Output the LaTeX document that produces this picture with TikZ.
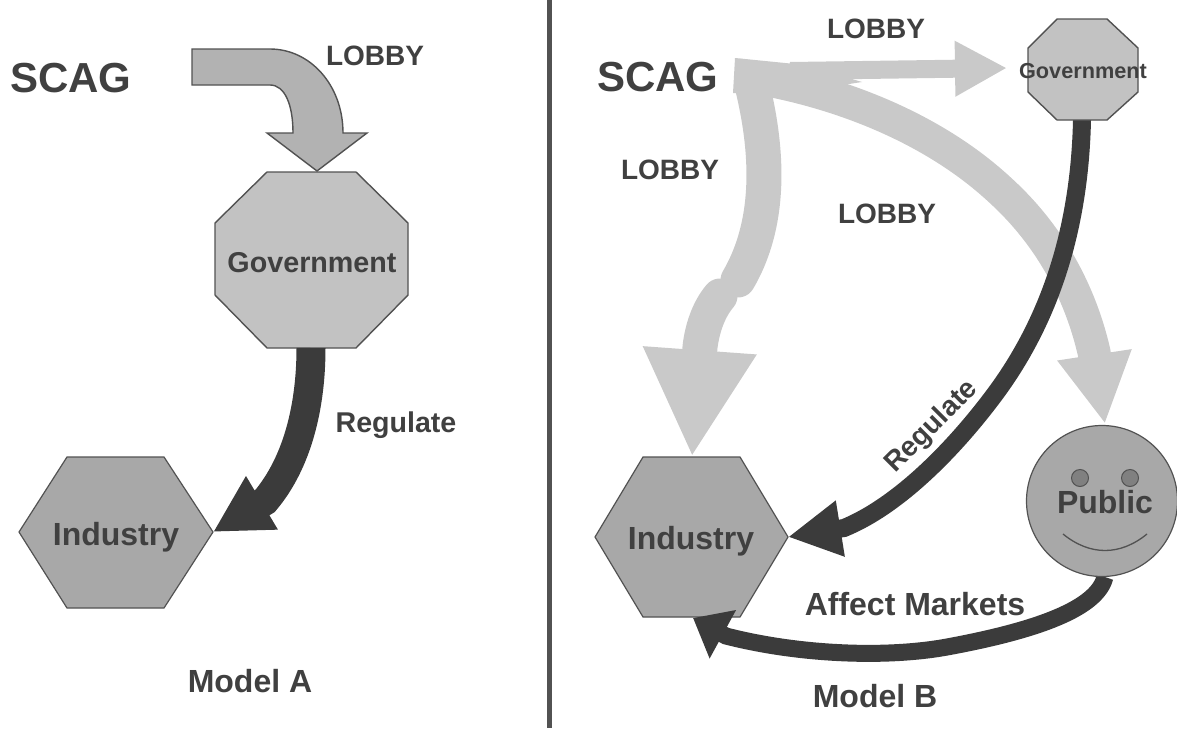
\documentclass[tikz,border=0pt]{standalone}
\usepackage{fontspec}
\setmainfont{Liberation Sans}
\usetikzlibrary{arrows.meta}

\definecolor{inkgray}{gray}{0.25}
\definecolor{edgegray}{gray}{0.32}
\definecolor{darkarrow}{gray}{0.23}
\definecolor{lightarrow}{gray}{0.79}
\definecolor{blockgray}{gray}{0.70}
\definecolor{govgray}{gray}{0.76}
\definecolor{indgray}{gray}{0.66}
\definecolor{eyegray}{gray}{0.50}

\tikzset{
  lbl/.style={font=\bfseries\fontsize{#1}{#1}\selectfont, text=inkgray, inner sep=0pt, anchor=base},
  govshape/.style={draw=edgegray, fill=govgray, line width=1.4pt, line join=miter},
  indshape/.style={draw=edgegray, fill=indgray, line width=1.2pt, line join=miter},
  lobbyline/.style={draw=lightarrow, line width=#1},
  regline/.style={draw=darkarrow, line width=#1}
}

\begin{document}
\begin{tikzpicture}[x=1pt,y=-1pt]
    \useasboundingbox (0,0) rectangle (1177,728);
    % Define vertices
    \coordinate (gova1) at (267,172);
    \coordinate (gova2) at (356,172);
    \coordinate (gova3) at (408,223);
    \coordinate (gova4) at (408,295);
    \coordinate (gova5) at (356,348);
    \coordinate (gova6) at (267,348);
    \coordinate (gova7) at (215,295);
    \coordinate (gova8) at (215,223);
    \coordinate (govaout) at (311,348);

    \coordinate (inda1) at (19,532);
    \coordinate (inda2) at (67,457);
    \coordinate (inda3) at (164,457);
    \coordinate (inda4) at (213,532);
    \coordinate (inda5) at (164,608);
    \coordinate (inda6) at (67,608);

    \coordinate (govb1) at (1057,19);
    \coordinate (govb2) at (1107,19);
    \coordinate (govb3) at (1138,48);
    \coordinate (govb4) at (1138,92);
    \coordinate (govb5) at (1107,120);
    \coordinate (govb6) at (1057,120);
    \coordinate (govb7) at (1028,92);
    \coordinate (govb8) at (1028,48);
    \coordinate (govbin) at (1007,68);
    \coordinate (govbout) at (1082,120);

    \coordinate (indb1) at (595,537);
    \coordinate (indb2) at (643,457);
    \coordinate (indb3) at (740,457);
    \coordinate (indb4) at (788,537);
    \coordinate (indb5) at (740,617);
    \coordinate (indb6) at (643,617);
    \coordinate (indbtop) at (692,457);
    \coordinate (indbbot) at (693,618);

    \coordinate (pubtop) at (1105,424);
    \coordinate (pubbot) at (1105,577);
    \coordinate (lobbyb) at (738,75);

    % Divider
    \draw[edgegray, line width=5pt] (549,0) -- (549,728);

    % Model A
    \draw[draw=edgegray, fill=blockgray, line width=1.4pt, line join=miter]
        (192,49) -- (270,49) .. controls (310,49) and (343,85) .. (343,133)
        -- (367,133) -- (317,171) -- (267,133) -- (293,133)
        .. controls (293,105) and (285,85) .. (270,85) -- (192,85) -- cycle;
    \draw[govshape] (gova1) -- (gova2) -- (gova3) -- (gova4) -- (gova5) -- (gova6) -- (gova7) -- (gova8) -- cycle;
    \draw[indshape] (inda1) -- (inda2) -- (inda3) -- (inda4) -- (inda5) -- (inda6) -- cycle;
    \draw[regline=29pt, -{Triangle[length=57pt,width=58pt]}]
        (govaout) .. controls (311,405) and (298,462) .. (265,501) -- (inda4);

    % Model B, hexagon under the arrows
    \draw[indshape] (indb1) -- (indb2) -- (indb3) -- (indb4) -- (indb5) -- (indb6) -- cycle;

    % Lobby arrows
    \fill[lightarrow] (735,58) -- (805,65) -- (862,82) -- (772,96) -- (733,93) -- cycle;
    \draw[lobbyline=18pt, -{Triangle[length=52pt,width=52pt]}] (790,71) -- (govbin);
    \draw[lobbyline=35pt, line cap=round] (752,85) .. controls (768,150) and (772,222) .. (738,280);
    \draw[lobbyline=35pt, line cap=round, -{Triangle[length=107pt,width=106pt]}]
        (720,296) .. controls (708,310) and (702,330) .. (700,347) -- (indbtop);
    \draw[lobbyline=33pt, -{Triangle[length=70pt,width=70pt]}]
        (lobbyb) .. controls (830,88) and (930,125) .. (1000,190)
        .. controls (1055,240) and (1082,300) .. (1094,352) -- (pubtop);

    % Regulate and market arrows
    \draw[regline=18pt, -{Triangle[length=53pt,width=53pt]}]
        (govbout) .. controls (1080,210) and (1059,310) .. (992,398)
        .. controls (955,447) and (900,505) .. (844,528) -- (indb4);
    \draw[regline=17pt, -{Triangle[length=34pt,width=53pt]}]
        (pubbot) .. controls (1098,605) and (1050,628) .. (947,647)
        .. controls (887,658) and (800,655) .. (726,636) -- (indbbot);

    \draw[govshape] (govb1) -- (govb2) -- (govb3) -- (govb4) -- (govb5) -- (govb6) -- (govb7) -- (govb8) -- cycle;
    \draw[indshape] (1102,501) circle[radius=75.5];
    \foreach \eye in {1080,1130} {
        \draw[draw=edgegray, fill=eyegray, line width=1pt] (\eye,478) circle[radius=8.5];
    }
    \draw[edgegray, line width=1.3pt] (1063,534) .. controls (1090,556) and (1120,556) .. (1147,534);

    % Labels
    \node[lbl=42] (scaga) at (71,92) {SCAG};
    \node[lbl=28] (lobbya) at (375,65) {LOBBY};
    \node[lbl=28.7] (govatext) at (312,272) {Government};
    \node[lbl=32] (indatext) at (116,545) {Industry};
    \node[lbl=28.6] (rega) at (396,432) {Regulate};
    \node[lbl=32] (modela) at (250,692) {Model A};

    \node[lbl=42] (scagb) at (658,91) {SCAG};
    \node[lbl=28] (lobbyb1) at (876,38) {LOBBY};
    \node[lbl=28] (lobbyb2) at (670,179) {LOBBY};
    \node[lbl=28] (lobbyb3) at (887,223) {LOBBY};
    \node[lbl=21.7] (govbtext) at (1083,78) {Government};
    \node[lbl=28, anchor=center, rotate=45] (regb) at (932,427) {Regulate};
    \node[lbl=32] (indbtext) at (691,549) {Industry};
    \node[lbl=32] (pubtext) at (1105,513) {Public};
    \node[lbl=32] (affect) at (915,615) {Affect Markets};
    \node[lbl=32] (modelb) at (875,707) {Model B};
\end{tikzpicture}
\end{document}
